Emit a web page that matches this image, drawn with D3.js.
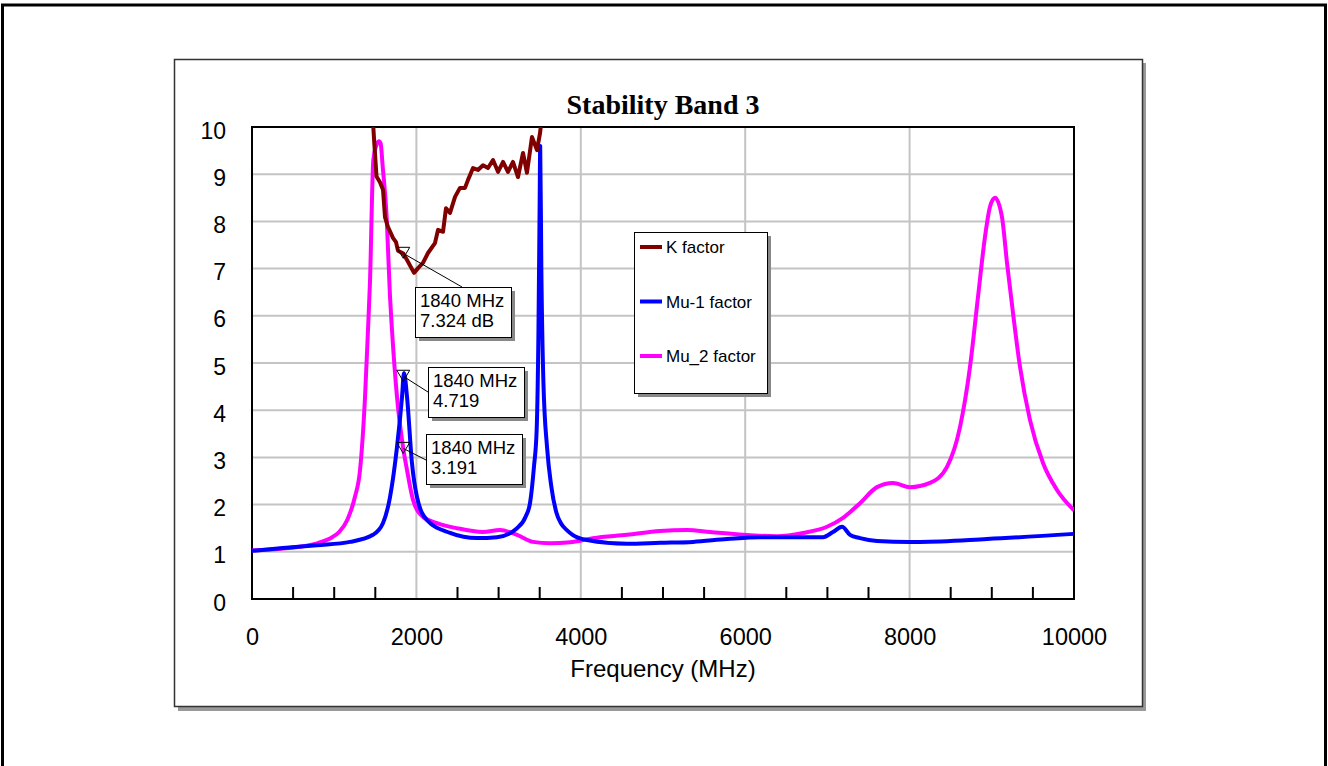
<!DOCTYPE html>
<html>
<head>
<meta charset="utf-8">
<script src="https://cdn.jsdelivr.net/npm/d3@7"></script>
<style>
  body { margin: 0; background: #fff; }
  svg { display: block; }
</style>
</head>
<body>
<div id="chart"></div>
<script>
// Stability Band 3 - K, Mu-1 and Mu_2 factors vs frequency

var kFreq = [1440, 1465, 1490, 1515, 1557, 1594, 1618, 1655, 1715, 1752, 1776, 1840, 1886, 1971, 2020, 2080, 2141, 2226, 2263, 2324, 2360, 2409, 2470, 2530, 2591, 2628, 2689, 2749, 2810, 2871, 2932, 2993, 3054, 3114, 3175, 3236, 3297, 3345, 3406, 3467, 3504, 3545, 3600];
var kVal  = [11.5, 10.3, 9.6, 8.95, 8.83, 8.67, 8.09, 7.88, 7.65, 7.56, 7.38, 7.32, 7.18, 6.91, 7.01, 7.12, 7.33, 7.54, 7.82, 7.78, 8.28, 8.18, 8.52, 8.71, 8.71, 8.88, 9.13, 9.09, 9.19, 9.13, 9.3, 9.05, 9.26, 9.05, 9.26, 8.94, 9.45, 9.03, 9.79, 9.51, 9.87, 10.5, 12];

var mu1Freq = [0, 377, 791, 1192, 1472, 1594, 1679, 1764, 1825, 1849, 1886, 1946, 2007, 2129, 2409, 2737, 2980, 3224, 3330, 3382, 3430, 3463, 3485, 3500, 3506, 3520, 3545, 3590, 3640, 3700, 3760, 3830, 3900, 4075, 4562, 4964, 5365, 5779, 6180, 6582, 6946, 7068, 7178, 7275, 7397, 7603, 8005, 8127, 8942, 10000];
var mu1Val  = [1.02, 1.08, 1.14, 1.21, 1.36, 1.61, 2.16, 3.22, 4.28, 4.79, 4.28, 2.88, 2.16, 1.67, 1.40, 1.29, 1.31, 1.5, 1.75, 2.03, 2.8, 3.58, 5.7, 8.5, 9.6, 7.0, 4.6, 3.2, 2.4, 1.85, 1.6, 1.46, 1.36, 1.25, 1.17, 1.19, 1.21, 1.27, 1.31, 1.31, 1.31, 1.42, 1.53, 1.36, 1.29, 1.23, 1.21, 1.21, 1.27, 1.38];

var mu2Freq = [0, 377, 791, 949, 1060, 1160, 1250, 1314, 1375, 1411, 1435, 1476, 1510, 1545, 1565, 1590, 1638, 1679, 1703, 1764, 1825, 1840, 1886, 1959, 2080, 2251, 2494, 2810, 3017, 3224, 3418, 3625, 3869, 4148, 4562, 4964, 5292, 5572, 5973, 6387, 6703, 6995, 7190, 7397, 7603, 7798, 8005, 8248, 8455, 8613, 8735, 8832, 8917, 8978, 9039, 9124, 9185, 9258, 9343, 9465, 9623, 9793, 10000];
var mu2Val  = [1.03, 1.07, 1.18, 1.28, 1.42, 1.68, 2.15, 2.73, 4.28, 5.7, 6.7, 9.3, 9.6, 9.7, 9.65, 9.16, 8.1, 6.4, 5.7, 4.28, 3.37, 3.19, 2.73, 2.1, 1.74, 1.61, 1.5, 1.42, 1.46, 1.36, 1.21, 1.18, 1.2, 1.29, 1.36, 1.44, 1.46, 1.42, 1.36, 1.33, 1.40, 1.53, 1.72, 2.03, 2.37, 2.46, 2.37, 2.46, 2.8, 3.64, 4.92, 6.4, 7.67, 8.31, 8.5, 8.09, 7.12, 6.06, 4.92, 3.79, 2.88, 2.31, 1.88];

var seriesNames  = ["K factor", "Mu-1 factor", "Mu_2 factor"];
var seriesColors = ["#800000", "#0000ff", "#ff00ff"];

var markerFreq   = [1840, 1840, 1840];
var markerVal    = [7.324, 4.719, 3.191];
var markerLabels = [["1840 MHz", "7.324 dB"], ["1840 MHz", "4.719"], ["1840 MHz", "3.191"]];

var xTicks = [0, 2000, 4000, 6000, 8000, 10000];
var yTicks = [0, 1, 2, 3, 4, 5, 6, 7, 8, 9, 10];

var W = 1328, H = 766;
var plot = { left: 252, top: 127, right: 1074, bottom: 599 };

var svg = d3.select("#chart").append("svg")
    .attr("width", W)
    .attr("height", H);

// outer frame (bottom edge runs off the page)
svg.append("rect")
    .attr("x", 2.5).attr("y", 5)
    .attr("width", 1323).attr("height", 800)
    .attr("fill", "none").attr("stroke", "#000").attr("stroke-width", 3);

// chart area with shadow
svg.append("rect")
    .attr("x", 178).attr("y", 63).attr("width", 968).attr("height", 648)
    .attr("fill", "#999");
svg.append("rect")
    .attr("x", 174.5).attr("y", 59.5).attr("width", 968).attr("height", 647)
    .attr("fill", "#fff").attr("stroke", "#333").attr("stroke-width", 1.5);

var x = d3.scaleLinear().domain([0, 10000]).range([plot.left, plot.right]);
var y = d3.scaleLinear().domain([0, 10]).range([plot.bottom, plot.top]);

// gridlines
var grid = svg.append("g");
grid.selectAll(".gx").data(xTicks.slice(1, -1)).enter().append("line")
    .attr("x1", d => x(d)).attr("x2", d => x(d))
    .attr("y1", plot.top).attr("y2", plot.bottom)
    .attr("stroke", "#c4c4c4").attr("stroke-width", 2);
grid.selectAll(".gy").data(yTicks.slice(1, -1)).enter().append("line")
    .attr("x1", plot.left).attr("x2", plot.right)
    .attr("y1", d => y(d)).attr("y2", d => y(d))
    .attr("stroke", "#c4c4c4").attr("stroke-width", 2);

// minor ticks on x axis (inside, every 500)
var minor = d3.range(500, 10000, 500).filter(d => d % 2000 !== 0);
svg.append("g").selectAll("line").data(minor).enter().append("line")
    .attr("x1", d => x(d)).attr("x2", d => x(d))
    .attr("y1", plot.bottom - 12).attr("y2", plot.bottom)
    .attr("stroke", "#000").attr("stroke-width", 2);

// plot frame
svg.append("rect")
    .attr("x", plot.left).attr("y", plot.top)
    .attr("width", plot.right - plot.left).attr("height", plot.bottom - plot.top)
    .attr("fill", "none").attr("stroke", "#000").attr("stroke-width", 2);

// axes labels via d3 axes, domain hidden
var xAxis = svg.append("g")
    .attr("transform", "translate(0," + plot.bottom + ")")
    .call(d3.axisBottom(x).tickValues(xTicks).tickSize(0).tickPadding(29).tickFormat(d3.format("d")));
var yAxis = svg.append("g")
    .attr("transform", "translate(" + plot.left + ",0)")
    .call(d3.axisLeft(y).tickValues(yTicks).tickSize(0).tickPadding(26).tickFormat(d3.format("d")));
[xAxis, yAxis].forEach(function(a) {
  a.select(".domain").remove();
  a.selectAll("text")
      .attr("font-family", "'Liberation Sans', Arial, sans-serif")
      .attr("font-size", "23.5px")
      .attr("fill", "#000");
});
yAxis.selectAll("text").attr("font-size", "23px").attr("dy", "0.48em");

svg.append("text")
    .attr("x", (plot.left + plot.right) / 2).attr("y", 677)
    .attr("text-anchor", "middle")
    .attr("font-family", "'Liberation Sans', Arial, sans-serif")
    .attr("font-size", "24px")
    .text("Frequency (MHz)");

svg.append("text")
    .attr("x", (plot.left + plot.right) / 2).attr("y", 114)
    .attr("text-anchor", "middle")
    .attr("font-family", "'Liberation Serif', 'Times New Roman', serif")
    .attr("font-weight", "bold")
    .attr("font-size", "28px")
    .text("Stability Band 3");

// series
svg.append("clipPath").attr("id", "clip")
  .append("rect")
    .attr("x", plot.left).attr("y", plot.top)
    .attr("width", plot.right - plot.left).attr("height", plot.bottom - plot.top);

var lineSmooth = d3.line().x(d => x(d[0])).y(d => y(d[1])).curve(d3.curveMonotoneX);
var lineRough  = d3.line().x(d => x(d[0])).y(d => y(d[1]));

var lines = svg.append("g").attr("clip-path", "url(#clip)");
lines.append("path")
    .attr("d", lineSmooth(d3.zip(mu2Freq, mu2Val)))
    .attr("fill", "none").attr("stroke", seriesColors[2]).attr("stroke-width", 4)
    .attr("stroke-linejoin", "round");
lines.append("path")
    .attr("d", lineSmooth(d3.zip(mu1Freq, mu1Val)))
    .attr("fill", "none").attr("stroke", seriesColors[1]).attr("stroke-width", 4)
    .attr("stroke-linejoin", "round");
lines.append("path")
    .attr("d", lineRough(d3.zip(kFreq, kVal)))
    .attr("fill", "none").attr("stroke", seriesColors[0]).attr("stroke-width", 4)
    .attr("stroke-linejoin", "round");

// markers with callouts
var boxPos = [{ x: 415, y: 287, ax: 462, ay: 287 },
              { x: 428, y: 367, ax: 428, ay: 392 },
              { x: 426, y: 434, ax: 426, ay: 460 }];
markerVal.forEach(function(v, i) {
  var mx = x(markerFreq[i]), my = y(v);
  var b = boxPos[i];
  var g = svg.append("g");
  g.append("line")
      .attr("x1", mx).attr("y1", my).attr("x2", b.ax).attr("y2", b.ay)
      .attr("stroke", "#000").attr("stroke-width", 1);
  g.append("path")
      .attr("d", "M" + (mx - 6.5) + "," + (my - 6) + "L" + (mx + 6.5) + "," + (my - 6) + "L" + mx + "," + (my + 5) + "Z")
      .attr("fill", "none").attr("stroke", "#000").attr("stroke-width", 1);
  g.append("rect")
      .attr("x", b.x + 4).attr("y", b.y + 4).attr("width", 96).attr("height", 50)
      .attr("fill", "#888");
  g.append("rect")
      .attr("x", b.x + 0.5).attr("y", b.y + 0.5).attr("width", 96).attr("height", 50)
      .attr("fill", "#fff").attr("stroke", "#000").attr("stroke-width", 1);
  markerLabels[i].forEach(function(t, j) {
    g.append("text")
        .attr("x", b.x + 5).attr("y", b.y + 20 + j * 20)
        .attr("font-family", "'Liberation Sans', Arial, sans-serif")
        .attr("font-size", "18.5px")
        .text(t);
  });
});

// legend
var legend = svg.append("g").attr("transform", "translate(634,232)");
legend.append("rect").attr("x", 4).attr("y", 4).attr("width", 133).attr("height", 161).attr("fill", "#888");
legend.append("rect").attr("x", 0.5).attr("y", 0.5).attr("width", 133).attr("height", 161)
    .attr("fill", "#fff").attr("stroke", "#000").attr("stroke-width", 1);
seriesNames.forEach(function(name, i) {
  var ly = 15 + i * 54.5;
  legend.append("line")
      .attr("x1", 6).attr("x2", 28).attr("y1", ly).attr("y2", ly)
      .attr("stroke", seriesColors[i]).attr("stroke-width", 4);
  legend.append("text")
      .attr("x", 32).attr("y", ly + 6)
      .attr("font-family", "'Liberation Sans', Arial, sans-serif")
      .attr("font-size", "17px")
      .text(name);
});
</script>
</body>
</html>
